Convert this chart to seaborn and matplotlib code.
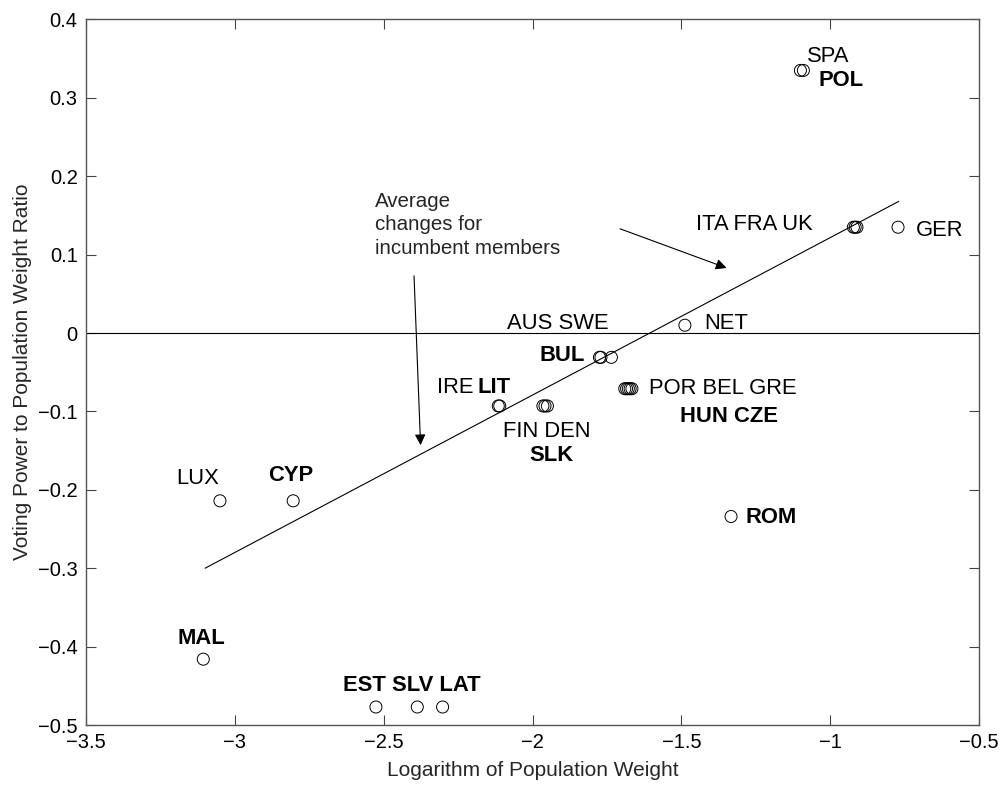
import numpy as np
import pandas as pd
import seaborn as sns
import matplotlib.pyplot as plt
from matplotlib.ticker import FuncFormatter

# Country points (log population weight, voting power / population weight ratio)
countries = ['SPA', 'POL', 'ITA', 'FRA', 'UK', 'GER', 'NET', 'AUS', 'SWE', 'BUL',
             'IRE', 'LIT', 'FIN', 'DEN', 'SLK', 'POR', 'BEL', 'GRE', 'HUN', 'CZE',
             'LUX', 'CYP', 'MAL', 'EST', 'SLV', 'LAT', 'ROM']
log_weight = [-1.100, -1.090, -0.922, -0.916, -0.910, -0.772, -1.488, -1.775, -1.770, -1.735,
              -2.115, -2.110, -1.965, -1.958, -1.950, -1.690, -1.684, -1.678, -1.672, -1.666,
              -3.050, -2.804, -3.106, -2.526, -2.387, -2.302, -1.333]
ratio = [0.335, 0.335, 0.135, 0.135, 0.135, 0.135, 0.010, -0.031, -0.031, -0.031,
         -0.093, -0.093, -0.093, -0.093, -0.093, -0.071, -0.071, -0.071, -0.071, -0.071,
         -0.214, -0.214, -0.416, -0.477, -0.477, -0.477, -0.234]

# Fitted line for incumbent members
fit_slope = 0.2008
fit_intercept = 0.3225
fit_range = [-3.1, -0.77]

# Labels: text, x, y, bold
label_text = ['SPA', 'POL', 'ITA FRA UK', 'GER', 'NET', 'AUS SWE', 'BUL', 'IRE', 'LIT',
              'FIN DEN', 'SLK', 'POR BEL GRE', 'HUN CZE', 'ROM', 'LUX', 'CYP', 'MAL',
              'EST SLV LAT']
label_x = [-1.079, -1.040, -1.451, -0.712, -1.424, -2.085, -1.977, -2.320, -2.186,
           -2.098, -2.009, -1.608, -1.505, -1.286, -3.198, -2.888, -3.193, -2.636]
label_y = [0.3525, 0.322, 0.138, 0.131, 0.012, 0.0116, -0.028, -0.069, -0.069,
           -0.126, -0.156, -0.0705, -0.107, -0.235, -0.185, -0.182, -0.389, -0.449]
label_bold = [False, True, False, False, False, False, True, False, True,
              False, True, False, True, True, False, True, True, True]

df = pd.DataFrame({'country': countries, 'logw': log_weight, 'ratio': ratio})
fit_x = np.array(fit_range)
fit_df = pd.DataFrame({'x': fit_x, 'y': fit_slope * fit_x + fit_intercept})

sns.set_style('ticks')
plt.rcParams['font.family'] = ['Liberation Sans', 'DejaVu Sans']
plt.rcParams['axes.unicode_minus'] = True

fig = plt.figure(figsize=(10, 7.85), dpi=100)
ax = fig.add_axes([0.086, 0.0764, 0.893, 0.8988])

ax.axhline(0, color='black', lw=0.8, zorder=1)
sns.lineplot(data=fit_df, x='x', y='y', color='black', lw=0.8, ax=ax, zorder=2)
sns.scatterplot(data=df, x='logw', y='ratio', marker='o', s=75, facecolor='none',
                edgecolor='black', linewidth=0.7, ax=ax, zorder=3)

for t, x, y, b in zip(label_text, label_x, label_y, label_bold):
    ax.text(x, y, t, ha='left', va='center', fontsize=15.8,
            fontweight='bold' if b else 'normal', color='black')

ax.text(-2.529, 0.180, 'Average\nchanges for\nincumbent members', ha='left', va='top',
        fontsize=14.8, linespacing=1.3)
arrow = dict(arrowstyle='-|>', color='black', lw=0.8, mutation_scale=16,
             shrinkA=0, shrinkB=0)
ax.annotate('', xy=(-2.376, -0.143), xytext=(-2.398, 0.073), arrowprops=arrow)
ax.annotate('', xy=(-1.348, 0.083), xytext=(-1.706, 0.133), arrowprops=arrow)

ax.set_xlim(-3.5, -0.5)
ax.set_ylim(-0.5, 0.4)
ax.set_xticks(np.arange(-3.5, -0.49, 0.5))
ax.set_yticks(np.arange(-0.5, 0.41, 0.1))
fmt = FuncFormatter(lambda v, p: ('%g' % (round(v, 2) + 0.0)).replace('-', '\u2212')
                    if abs(v) > 1e-9 else '0')
ax.xaxis.set_major_formatter(fmt)
ax.yaxis.set_major_formatter(fmt)
ax.tick_params(direction='in', length=7, width=0.8, top=True, right=True,
               labelsize=14.5, colors='#444444', labelcolor='black', pad=6)
for s in ax.spines.values():
    s.set_visible(True)
    s.set_color('#555555')
    s.set_linewidth(1.0)

ax.set_xlabel('Logarithm of Population Weight', fontsize=15, labelpad=6)
ax.set_ylabel('Voting Power to Population Weight Ratio', fontsize=15, labelpad=4)

fig.savefig('out.png', dpi=100)
